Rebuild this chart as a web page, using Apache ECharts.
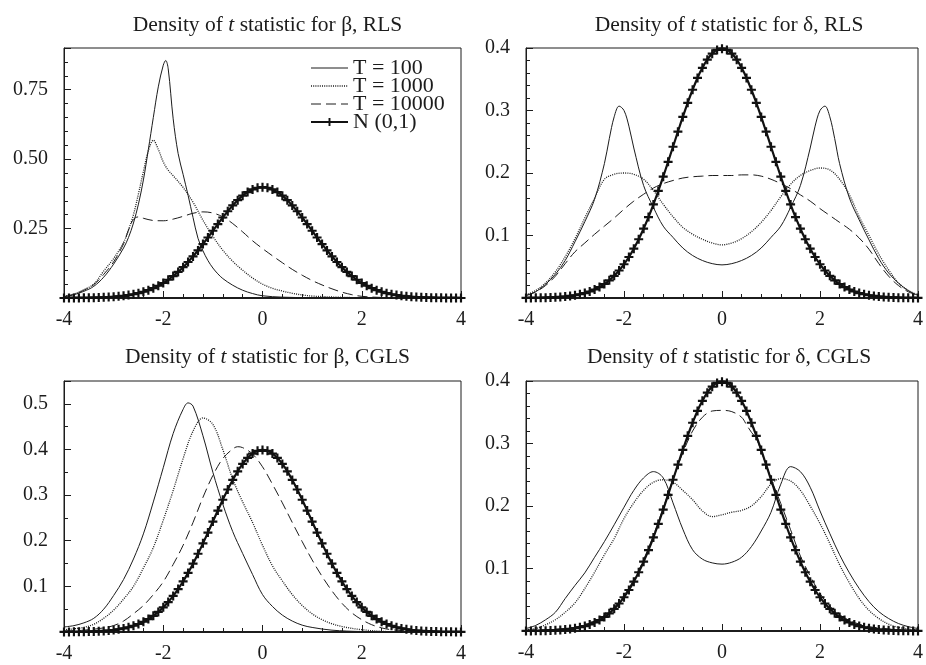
<!DOCTYPE html>
<html>
<head>
<meta charset="utf-8">
<script src="https://cdn.jsdelivr.net/npm/echarts@6/dist/echarts.min.js"></script>
<style>
  html, body { margin: 0; padding: 0; background: #fff; }
  #chart { width: 926px; height: 665px; }
</style>
</head>
<body>
<div id="chart"></div>
<script>
// values, [t, density]
const betaRls100 = [[-4,0.005],[-3.8,0.012],[-3.6,0.024],[-3.4,0.042],[-3.2,0.075],[-3,0.122],[-2.8,0.18],[-2.7,0.218],[-2.6,0.27],[-2.5,0.338],[-2.4,0.425],[-2.3,0.535],[-2.2,0.65],[-2.1,0.76],[-2,0.838],[-1.95,0.855],[-1.9,0.825],[-1.8,0.645],[-1.7,0.52],[-1.6,0.445],[-1.5,0.37],[-1.4,0.29],[-1.3,0.215],[-1.2,0.17],[-1.1,0.135],[-1,0.108],[-0.9,0.087],[-0.8,0.07],[-0.6,0.046],[-0.4,0.028],[-0.2,0.016],[0,0.008],[0.4,0.003],[1,0.001],[2,0],[4,0]]
const betaRls1000 = [[-4,0.006],[-3.8,0.014],[-3.6,0.03],[-3.4,0.05],[-3.2,0.097],[-3,0.142],[-2.8,0.2],[-2.7,0.245],[-2.6,0.3],[-2.5,0.375],[-2.4,0.455],[-2.3,0.53],[-2.2,0.568],[-2.1,0.535],[-2,0.49],[-1.9,0.46],[-1.8,0.44],[-1.6,0.398],[-1.4,0.345],[-1.2,0.28],[-1,0.222],[-0.8,0.172],[-0.6,0.132],[-0.4,0.1],[-0.2,0.072],[0,0.05],[0.2,0.035],[0.4,0.025],[0.6,0.017],[0.8,0.011],[1,0.007],[1.5,0.003],[2,0.001],[3,0],[4,0]]
const betaRls10000 = [[-4,0.005],[-3.8,0.013],[-3.6,0.028],[-3.4,0.048],[-3.2,0.085],[-3,0.13],[-2.8,0.195],[-2.7,0.245],[-2.6,0.283],[-2.5,0.292],[-2.4,0.287],[-2.2,0.279],[-2,0.278],[-1.8,0.284],[-1.6,0.294],[-1.4,0.305],[-1.2,0.31],[-1,0.306],[-0.8,0.292],[-0.6,0.268],[-0.4,0.238],[-0.2,0.206],[0,0.178],[0.2,0.152],[0.4,0.127],[0.6,0.103],[0.8,0.082],[1,0.063],[1.2,0.047],[1.4,0.033],[1.6,0.021],[1.8,0.012],[2,0.006],[2.4,0.002],[3,0],[4,0]]

const deltaRls100 = [[-4,0.004],[-3.8,0.01],[-3.6,0.022],[-3.4,0.038],[-3.2,0.06],[-3,0.09],[-2.8,0.122],[-2.6,0.158],[-2.4,0.215],[-2.3,0.255],[-2.2,0.29],[-2.1,0.307],[-2,0.3],[-1.9,0.275],[-1.8,0.24],[-1.6,0.18],[-1.4,0.145],[-1.2,0.115],[-1,0.097],[-0.8,0.08],[-0.6,0.068],[-0.4,0.06],[-0.2,0.055],[0,0.053],[0.2,0.055],[0.4,0.06],[0.6,0.068],[0.8,0.08],[1,0.097],[1.2,0.115],[1.4,0.145],[1.6,0.18],[1.8,0.24],[1.9,0.275],[2,0.3],[2.1,0.307],[2.2,0.29],[2.3,0.255],[2.4,0.215],[2.6,0.16],[2.8,0.125],[3,0.093],[3.2,0.063],[3.4,0.04],[3.6,0.024],[3.8,0.012],[4,0.004]]
const deltaRls1000 = [[-4,0.005],[-3.8,0.012],[-3.6,0.024],[-3.4,0.042],[-3.2,0.066],[-3,0.095],[-2.8,0.128],[-2.6,0.16],[-2.4,0.19],[-2.2,0.198],[-2,0.2],[-1.8,0.198],[-1.6,0.19],[-1.4,0.172],[-1.2,0.15],[-1,0.13],[-0.8,0.113],[-0.6,0.102],[-0.4,0.094],[-0.2,0.088],[0,0.085],[0.2,0.088],[0.4,0.095],[0.6,0.106],[0.8,0.121],[1,0.14],[1.2,0.162],[1.4,0.182],[1.6,0.196],[1.8,0.204],[2,0.208],[2.2,0.205],[2.4,0.19],[2.6,0.165],[2.8,0.13],[3,0.1],[3.2,0.07],[3.4,0.045],[3.6,0.024],[3.8,0.012],[4,0.005]]
const deltaRls10000 = [[-4,0.004],[-3.8,0.01],[-3.6,0.02],[-3.4,0.035],[-3.2,0.055],[-3,0.074],[-2.8,0.088],[-2.6,0.102],[-2.4,0.115],[-2.2,0.128],[-2,0.142],[-1.8,0.155],[-1.6,0.166],[-1.4,0.176],[-1.2,0.183],[-1,0.188],[-0.8,0.192],[-0.6,0.194],[-0.4,0.195],[-0.2,0.196],[0,0.196],[0.2,0.196],[0.4,0.197],[0.6,0.197],[0.8,0.195],[1,0.19],[1.2,0.183],[1.4,0.175],[1.6,0.165],[1.8,0.155],[2,0.143],[2.2,0.132],[2.4,0.121],[2.6,0.11],[2.8,0.096],[3,0.078],[3.2,0.055],[3.4,0.035],[3.6,0.02],[3.8,0.01],[4,0.004]]

const betaCg100 = [[-4,0.011],[-3.8,0.014],[-3.6,0.02],[-3.4,0.03],[-3.2,0.05],[-3,0.08],[-2.8,0.115],[-2.6,0.16],[-2.4,0.215],[-2.2,0.285],[-2,0.36],[-1.8,0.435],[-1.6,0.488],[-1.5,0.502],[-1.4,0.495],[-1.2,0.43],[-1,0.35],[-0.8,0.28],[-0.6,0.22],[-0.4,0.172],[-0.2,0.126],[0,0.082],[0.2,0.056],[0.4,0.037],[0.6,0.024],[0.8,0.015],[1,0.01],[1.4,0.004],[2,0.001],[3,0],[4,0]]
const betaCg1000 = [[-4,0.005],[-3.8,0.007],[-3.6,0.01],[-3.4,0.017],[-3.2,0.03],[-3,0.048],[-2.8,0.072],[-2.6,0.1],[-2.4,0.14],[-2.2,0.185],[-2,0.245],[-1.8,0.31],[-1.6,0.38],[-1.4,0.44],[-1.2,0.469],[-1,0.455],[-0.8,0.4],[-0.6,0.335],[-0.4,0.285],[-0.2,0.24],[0,0.19],[0.2,0.145],[0.4,0.112],[0.6,0.082],[0.8,0.058],[1,0.04],[1.2,0.027],[1.4,0.018],[1.6,0.012],[2,0.005],[2.5,0.001],[3,0],[4,0]]
const betaCg10000 = [[-4,0.002],[-3.6,0.004],[-3.2,0.009],[-3,0.014],[-2.8,0.024],[-2.6,0.04],[-2.4,0.058],[-2.2,0.082],[-2,0.11],[-1.8,0.148],[-1.6,0.19],[-1.4,0.24],[-1.2,0.295],[-1,0.343],[-0.8,0.38],[-0.6,0.401],[-0.5,0.406],[-0.4,0.404],[-0.2,0.39],[0,0.362],[0.2,0.324],[0.4,0.283],[0.6,0.24],[0.8,0.198],[1,0.158],[1.2,0.122],[1.4,0.09],[1.6,0.063],[1.8,0.042],[2,0.027],[2.2,0.016],[2.4,0.009],[2.6,0.005],[3,0.002],[4,0]]

const deltaCg100 = [[-4,0.004],[-3.8,0.009],[-3.6,0.018],[-3.4,0.03],[-3.2,0.052],[-3,0.073],[-2.8,0.093],[-2.6,0.118],[-2.4,0.143],[-2.2,0.17],[-2,0.198],[-1.8,0.225],[-1.6,0.245],[-1.4,0.255],[-1.2,0.245],[-1,0.205],[-0.8,0.163],[-0.6,0.13],[-0.4,0.115],[-0.2,0.109],[0,0.107],[0.2,0.11],[0.4,0.118],[0.6,0.135],[0.8,0.16],[1,0.19],[1.2,0.235],[1.4,0.263],[1.6,0.255],[1.8,0.23],[2,0.192],[2.2,0.156],[2.4,0.122],[2.6,0.093],[2.8,0.068],[3,0.047],[3.2,0.031],[3.4,0.02],[3.6,0.012],[3.8,0.007],[4,0.004]]
const deltaCg1000 = [[-4,0.002],[-3.8,0.004],[-3.6,0.01],[-3.4,0.018],[-3.2,0.03],[-3,0.045],[-2.8,0.068],[-2.6,0.094],[-2.4,0.122],[-2.2,0.148],[-2,0.18],[-1.8,0.205],[-1.6,0.225],[-1.4,0.238],[-1.2,0.242],[-1,0.238],[-0.8,0.225],[-0.6,0.21],[-0.4,0.192],[-0.2,0.183],[0,0.186],[0.2,0.19],[0.4,0.193],[0.6,0.2],[0.8,0.215],[1,0.235],[1.2,0.244],[1.4,0.24],[1.6,0.225],[1.8,0.2],[2,0.172],[2.2,0.14],[2.4,0.106],[2.6,0.077],[2.8,0.052],[3,0.033],[3.2,0.02],[3.4,0.011],[3.6,0.006],[3.8,0.003],[4,0.002]]
const deltaCg10000 = [[-4,0.001],[-3.6,0.002],[-3.2,0.004],[-3,0.006],[-2.8,0.01],[-2.6,0.016],[-2.4,0.025],[-2.2,0.038],[-2,0.057],[-1.8,0.082],[-1.6,0.114],[-1.4,0.153],[-1.2,0.197],[-1,0.243],[-0.8,0.285],[-0.6,0.32],[-0.4,0.342],[-0.2,0.352],[0,0.353],[0.2,0.351],[0.4,0.342],[0.5,0.33],[0.6,0.318],[0.7,0.308],[0.8,0.288],[1,0.244],[1.2,0.204],[1.4,0.162],[1.6,0.12],[1.8,0.088],[2,0.06],[2.2,0.04],[2.4,0.026],[2.6,0.017],[2.8,0.011],[3,0.007],[3.2,0.005],[3.6,0.002],[4,0.001]]

// N(0,1) reference curve, marked every 0.1
const normT = [-4,-3.9,-3.8,-3.7,-3.6,-3.5,-3.4,-3.3,-3.2,-3.1,-3,-2.9,-2.8,-2.7,-2.6,-2.5,-2.4,-2.3,-2.2,-2.1,-2,-1.9,-1.8,-1.7,-1.6,-1.5,-1.4,-1.3,-1.2,-1.1,-1,-0.9,-0.8,-0.7,-0.6,-0.5,-0.4,-0.3,-0.2,-0.1,0,0.1,0.2,0.3,0.4,0.5,0.6,0.7,0.8,0.9,1,1.1,1.2,1.3,1.4,1.5,1.6,1.7,1.8,1.9,2,2.1,2.2,2.3,2.4,2.5,2.6,2.7,2.8,2.9,3,3.1,3.2,3.3,3.4,3.5,3.6,3.7,3.8,3.9,4]
const normPdf = [0.0001,0.0002,0.0003,0.0004,0.0006,0.0009,0.0012,0.0017,0.0024,0.0033,0.0044,0.0060,0.0079,0.0104,0.0136,0.0175,0.0224,0.0283,0.0355,0.0440,0.0540,0.0656,0.0790,0.0940,0.1109,0.1295,0.1497,0.1714,0.1942,0.2179,0.2420,0.2661,0.2897,0.3123,0.3332,0.3521,0.3683,0.3814,0.3910,0.3970,0.3989,0.3970,0.3910,0.3814,0.3683,0.3521,0.3332,0.3123,0.2897,0.2661,0.2420,0.2179,0.1942,0.1714,0.1497,0.1295,0.1109,0.0940,0.0790,0.0656,0.0540,0.0440,0.0355,0.0283,0.0224,0.0175,0.0136,0.0104,0.0079,0.0060,0.0044,0.0033,0.0024,0.0017,0.0012,0.0009,0.0006,0.0004,0.0003,0.0002,0.0001]

const seriesNames = ['T = 100', 'T = 1000', 'T = 10000', 'N (0,1)']
const panelTitles = [
  'Density of {i|t} statistic for β, RLS',
  'Density of {i|t} statistic for δ, RLS',
  'Density of {i|t} statistic for β, CGLS',
  'Density of {i|t} statistic for δ, CGLS'
]
const yMax = [0.9, 0.4, 0.55, 0.4]
const yStep = [0.25, 0.1, 0.1, 0.1]
const yMinorSplit = [5, 5, 2, 5]
const yDigits = [2, 1, 1, 1]

const FONT = '"Liberation Serif", "DejaVu Serif", serif'
const INK = '#1c1c1c'

const grids = [
  { left: 64, top: 48, width: 397, height: 250 },
  { left: 526, top: 48, width: 396, height: 250 },
  { left: 64, top: 381, width: 397, height: 251 },
  { left: 526, top: 381, width: 396, height: 250 }
]

const panels = [
  [betaRls100, betaRls1000, betaRls10000],
  [deltaRls100, deltaRls1000, deltaRls10000],
  [betaCg100, betaCg1000, betaCg10000],
  [deltaCg100, deltaCg1000, deltaCg10000]
]

const normData = normT.map((t, i) => [t, normPdf[i]])
// '+' marker
const plus = 'path://M-1.2,-5H1.2V-1.2H5V1.2H1.2V5H-1.2V1.2H-5V-1.2H-1.2Z'

const lineTypes = ['solid', [1, 1.2], [10, 5]]

const series = []
panels.forEach((curves, g) => {
  curves.forEach((data, k) => {
    series.push({
      name: seriesNames[k],
      type: 'line',
      xAxisIndex: g,
      yAxisIndex: g,
      data: data,
      smooth: 0.35,
      symbol: 'none',
      lineStyle: { color: INK, width: k === 1 ? 1.3 : 1, type: lineTypes[k] },
      itemStyle: { color: INK, opacity: 0 }
    })
  })
  series.push({
    name: seriesNames[3],
    type: 'line',
    xAxisIndex: g,
    yAxisIndex: g,
    data: normData,
    smooth: true,
    symbol: plus,
    symbolSize: 9,
    showSymbol: true,
    lineStyle: { color: '#111', width: 2.2 },
    itemStyle: { color: '#111' },
    z: 5
  })
})

const chart = echarts.init(document.getElementById('chart'))

chart.setOption({
  animation: false,
  backgroundColor: '#fff',
  title: panelTitles.map((txt, g) => ({
    text: txt,
    left: grids[g].left + grids[g].width / 2,
    top: g < 2 ? 9 : 341,
    textAlign: 'center',
    textStyle: {
      fontFamily: FONT, fontSize: 21.5, fontWeight: 'normal', color: INK,
      rich: { i: { fontFamily: FONT, fontSize: 21.5, fontStyle: 'italic', color: INK } }
    }
  })),
  legend: {
    data: [
      { name: seriesNames[0], lineStyle: { width: 1 }, itemStyle: { opacity: 0 } },
      { name: seriesNames[1], lineStyle: { width: 1.3 }, itemStyle: { opacity: 0 } },
      { name: seriesNames[2], lineStyle: { width: 1 }, itemStyle: { opacity: 0 } },
      { name: seriesNames[3], lineStyle: { width: 2 } }
    ],
    orient: 'vertical',
    left: 305,
    top: 52,
    itemWidth: 37,
    itemHeight: 10,
    itemGap: -4,
    selectedMode: false,
    textStyle: { fontFamily: FONT, fontSize: 22, color: INK, lineHeight: 18 }
  },
  grid: grids.map(r => Object.assign({ show: true, borderColor: INK, borderWidth: 1 }, r)),
  xAxis: grids.map((r, g) => ({
    type: 'value',
    gridIndex: g,
    min: -4,
    max: 4,
    interval: 2,
    axisLine: { onZero: false, lineStyle: { color: INK, width: 2 } },
    axisTick: { inside: true, length: 7, lineStyle: { color: INK } },
    minorTick: { show: true, splitNumber: 5, length: 4, lineStyle: { color: INK } },
    splitLine: { show: false },
    axisLabel: { margin: 12, fontFamily: FONT, fontSize: 20, color: INK }
  })),
  yAxis: grids.map((r, g) => ({
    type: 'value',
    gridIndex: g,
    min: 0,
    max: yMax[g],
    interval: yStep[g],
    axisLine: { show: true, onZero: false, lineStyle: { color: INK, width: 1 } },
    axisTick: { inside: true, length: 7, lineStyle: { color: INK } },
    minorTick: { show: true, splitNumber: yMinorSplit[g], length: 4, lineStyle: { color: INK } },
    splitLine: { show: false },
    axisLabel: {
      margin: 16,
      fontFamily: FONT,
      fontSize: 20,
      color: INK,
      showMinLabel: false,
      showMaxLabel: yMax[g] === 0.4,
      formatter: v => v.toFixed(yDigits[g])
    }
  })),
  series: series
})
</script>
</body>
</html>
